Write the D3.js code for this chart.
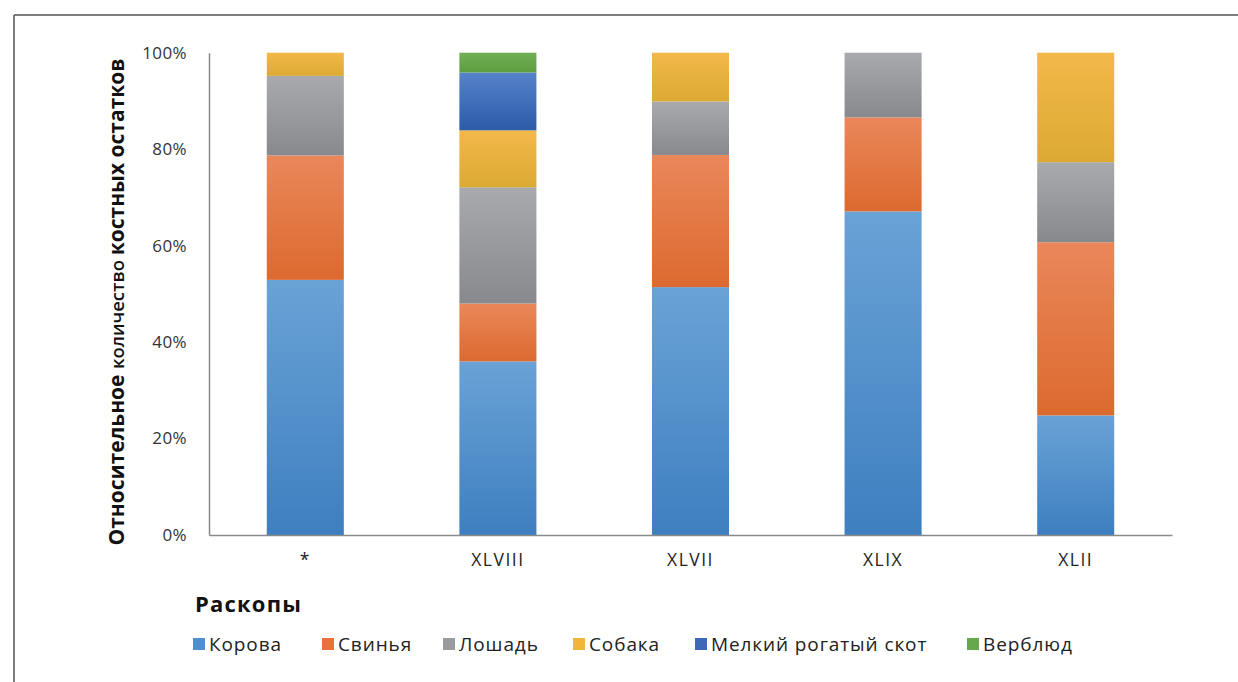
<!DOCTYPE html>
<html><head><meta charset="utf-8">
<script src="https://cdn.jsdelivr.net/npm/d3@7"></script>
<style>
html,body{margin:0;padding:0;background:#fff;}
svg{display:block;}
</style></head>
<body>
<svg id="chart" width="1238" height="682"></svg>
<script>
// ---- data ----
const categories = ["*", "XLVIII", "XLVII", "XLIX", "XLII"];
const seriesNames = ["Корова", "Свинья", "Лошадь", "Собака", "Мелкий рогатый скот", "Верблюд"];
const cow        = [52.9, 36.0, 51.4, 67.1, 24.8];
const pig        = [25.8, 12.0, 27.4, 19.5, 35.9];
const horse      = [16.5, 24.1, 11.1, 13.4, 16.6];
const dog        = [4.8, 11.8, 10.1, 0, 22.7];
const smallCattle= [0, 12.0, 0, 0, 0];
const camel      = [0, 4.1, 0, 0, 0];
const yTicks = [0, 20, 40, 60, 80, 100];
const yTickLabels = ["0%", "20%", "40%", "60%", "80%", "100%"];

const seriesValues = [cow, pig, horse, dog, smallCattle, camel];
const colorsTop    = ["#6aa2d6", "#ea875a", "#a8aaad", "#f3b84a", "#5682ca", "#72b055"];
const colorsBottom = ["#3e7fc0", "#dc6a2f", "#88898c", "#dcaa33", "#2c5ba9", "#5e9c40"];
const legendColors = ["#4f8fd0", "#e8703a", "#9a9b9e", "#f1b53a", "#3e68b8", "#66a84a"];

const svg = d3.select("#chart");
const FONT = "'Open Sans', sans-serif";

// frame
svg.append("line").attr("x1",14).attr("y1",15).attr("x2",1238).attr("y2",15).attr("stroke","#555").attr("stroke-width",1.5);
svg.append("line").attr("x1",14).attr("y1",15).attr("x2",14).attr("y2",682).attr("stroke","#555").attr("stroke-width",1.5);

const m = {left:209, right:1172, top:52.7, bottom:535};
const x = d3.scaleBand().domain(categories).range([m.left, m.right]).paddingInner(0.6).paddingOuter(0.3);
const y = d3.scaleLinear().domain([0,100]).range([m.bottom, m.top]);

// gradients
const defs = svg.append("defs");
seriesNames.forEach((s,i)=>{
  const g = defs.append("linearGradient").attr("id","g"+i).attr("x1",0).attr("y1",0).attr("x2",0).attr("y2",1);
  g.append("stop").attr("offset","0%").attr("stop-color",colorsTop[i]);
  g.append("stop").attr("offset","100%").attr("stop-color",colorsBottom[i]);
});

// stacked data
const table = categories.map((c,ci)=>{
  const o = {cat:c};
  seriesNames.forEach((s,si)=>{ o[s] = seriesValues[si][ci]; });
  return o;
});
const stack = d3.stack().keys(seriesNames)(table);

const gBars = svg.append("g");
stack.forEach((layer,si)=>{
  gBars.append("g").selectAll("rect").data(layer.filter(d=>d[1]-d[0]>0)).join("rect")
    .attr("x", d=>x(d.data.cat))
    .attr("width", x.bandwidth())
    .attr("y", d=>y(d[1]))
    .attr("height", d=>y(d[0])-y(d[1]))
    .attr("fill","url(#g"+si+")");
});

// axes
const yAxis = d3.axisLeft(y).tickValues(yTicks).tickFormat((d,i)=>yTickLabels[i]).tickSize(0).tickPadding(22);
const ga = svg.append("g").attr("transform",`translate(${m.left},0)`).call(yAxis);
ga.select(".domain").attr("stroke","#8a8a8a").attr("stroke-width",1.5);
ga.selectAll("text").attr("font-family",FONT).attr("font-size",17).attr("letter-spacing",0.4).attr("fill","#333");

const xAxis = d3.axisBottom(x).tickSize(0).tickPadding(19);
const gx = svg.append("g").attr("transform",`translate(0,${m.bottom})`).call(xAxis);
gx.select(".domain").attr("stroke","#8a8a8a").attr("stroke-width",1.5);
gx.selectAll("text").attr("font-family",FONT).attr("font-size",17.5).attr("letter-spacing",1.5).attr("fill","#222");

// y title
const yt = svg.append("text")
  .attr("transform","translate(124,302) rotate(-90)")
  .attr("text-anchor","middle")
  .attr("font-family",FONT)
  .attr("fill","#111");
yt.append("tspan").attr("font-weight","bold").attr("font-size",21).text("Относительное ");
yt.append("tspan").attr("font-weight","600").attr("font-size",18.5).text("количество ");
yt.append("tspan").attr("font-weight","bold").attr("font-size",21).text("костных остатков");

// x title
svg.append("text").attr("x",195).attr("y",612)
  .attr("font-family",FONT).attr("font-weight","bold").attr("font-size",22).attr("letter-spacing",1.2).attr("fill","#111")
  .text("Раскопы");

// legend
const legendX = [193, 322, 443, 573, 695, 967];
const lg = svg.append("g");
seriesNames.forEach((s,i)=>{
  lg.append("rect").attr("x",legendX[i]).attr("y",638).attr("width",12).attr("height",12).attr("fill",legendColors[i]);
  lg.append("text").attr("x",legendX[i]+16).attr("y",651)
    .attr("font-family",FONT).attr("font-size",19).attr("letter-spacing",0.9).attr("fill","#222").text(s);
});
</script>
</body></html>
